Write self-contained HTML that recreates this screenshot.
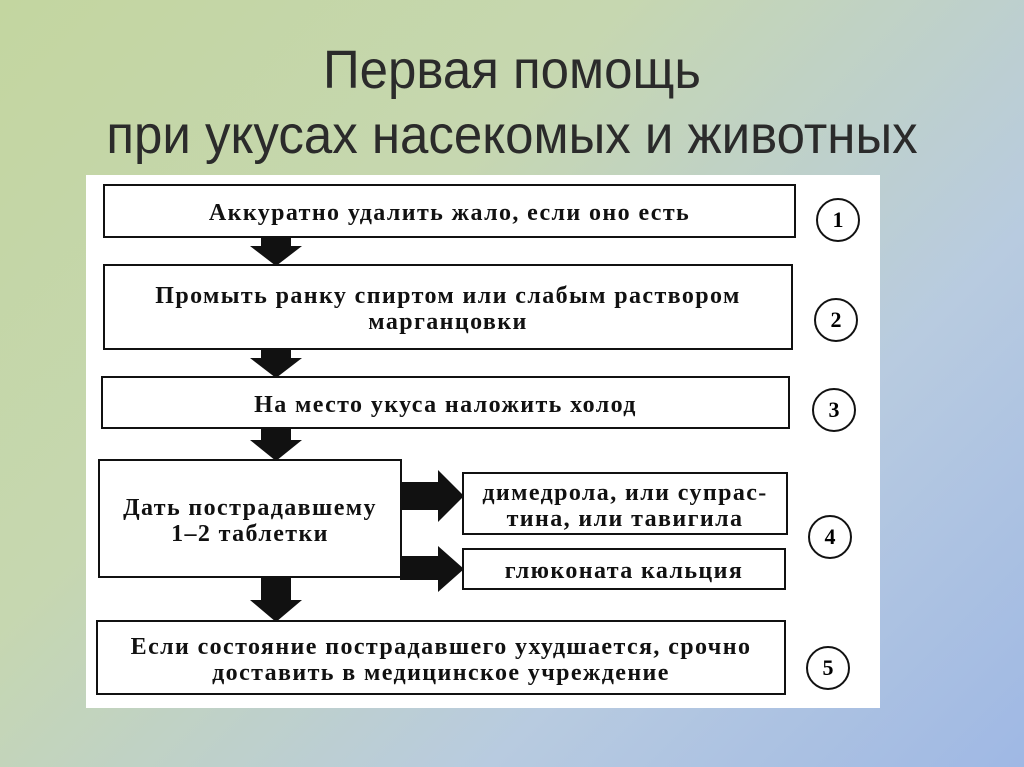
<!DOCTYPE html>
<html><head><meta charset="utf-8"><style>
body{margin:0;width:1024px;height:767px;overflow:hidden;background:linear-gradient(135deg,#c3d6a0 0%,#c6d7b0 35%,#b8cbe0 70%,#9fb8e4 100%);font-family:"Liberation Sans",sans-serif;position:relative}
.t{position:absolute;left:0;width:1024px;text-align:center;font-size:51px;line-height:60px;color:#2b2b2b;transform:scaleY(1.05)}
.p{position:absolute;left:86px;top:175px;width:794px;height:533px;background:#fff}
.b{position:absolute;border:2px solid #111;box-sizing:border-box;background:#fff;font-family:"Liberation Serif",serif;font-weight:bold;font-size:24px;letter-spacing:1.4px;text-align:center;display:flex;align-items:center;justify-content:center;line-height:26px;color:#111;padding-top:4px}
.c{position:absolute;width:44px;height:44px;border:2px solid #111;border-radius:50%;box-sizing:border-box;font-family:"Liberation Serif",serif;font-weight:bold;font-size:22px;display:flex;align-items:center;justify-content:center}
</style></head><body>
<div class="t" style="top:40px">Первая помощь</div>
<div class="t" style="top:105px">при укусах насекомых и животных</div>
<div class="p"></div>
<svg style="position:absolute;left:0;top:0" width="1024" height="767">
<g fill="#111">
<polygon points="261,226 291,226 291,246 302,246 276,266 250,246 261,246"/>
<polygon points="261,340 291,340 291,358 302,358 276,378 250,358 261,358"/>
<polygon points="261,420 291,420 291,440 302,440 276,461 250,440 261,440"/>
<polygon points="261,570 291,570 291,600 302,600 276,622 250,600 261,600"/>
<polygon points="400,482 438,482 438,470 464,496 438,522 438,510 400,510"/>
<polygon points="400,556 438,556 438,546 464,569 438,592 438,580 400,580"/>
</g></svg>
<div class="b" style="left:103px;top:184px;width:693px;height:54px">Аккуратно удалить жало, если оно есть</div>
<div class="b" style="left:103px;top:264px;width:690px;height:86px">Промыть ранку спиртом или слабым раствором<br>марганцовки</div>
<div class="b" style="left:101px;top:376px;width:689px;height:53px">На место укуса наложить холод</div>
<div class="b" style="left:98px;top:459px;width:304px;height:119px">Дать пострадавшему<br>1–2 таблетки</div>
<div class="b" style="left:462px;top:472px;width:326px;height:63px">димедрола, или супрас-<br>тина, или тавигила</div>
<div class="b" style="left:462px;top:548px;width:324px;height:42px">глюконата кальция</div>
<div class="b" style="left:96px;top:620px;width:690px;height:75px">Если состояние пострадавшего ухудшается, срочно<br>доставить в медицинское учреждение</div>
<div class="c" style="left:816px;top:198px">1</div>
<div class="c" style="left:814px;top:298px">2</div>
<div class="c" style="left:812px;top:388px">3</div>
<div class="c" style="left:808px;top:515px">4</div>
<div class="c" style="left:806px;top:646px">5</div>
</body></html>
